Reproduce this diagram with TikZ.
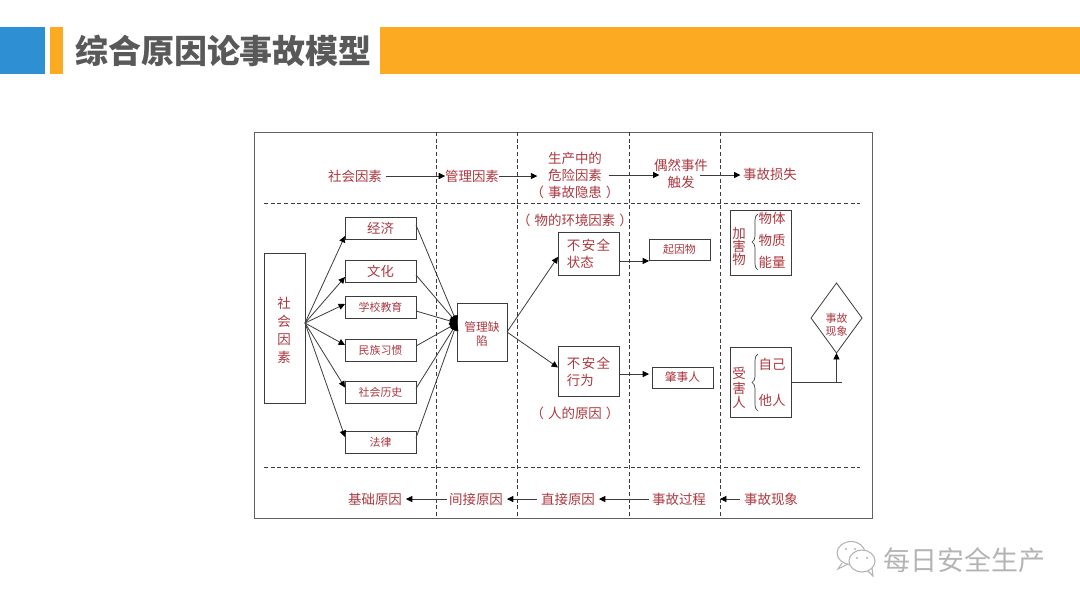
\documentclass[tikz,border=0pt]{standalone}
\usepackage{fontspec}
\setmainfont{Noto Sans CJK SC}
\usetikzlibrary{arrows.meta,decorations.pathreplacing,shapes.geometric}
\definecolor{hblue}{HTML}{2E90D2}
\definecolor{horange}{HTML}{FBAA22}
\definecolor{htitle}{HTML}{595959}
\definecolor{lab}{HTML}{AC3840}
\definecolor{ln}{HTML}{3C3C3C}
\definecolor{wm}{HTML}{B4B4B4}
\tikzset{
  x=0.75pt,y=-0.75pt,
  lbl/.style={inner sep=0pt,outer sep=0pt,text=lab,align=center,font=\fontsize{10.1}{12.75}\selectfont},
  sml/.style={inner sep=0pt,outer sep=0pt,text=lab,align=center,font=\fontsize{8.2}{10.4}\selectfont},
  boxn/.style={draw=ln,line width=0.6pt,inner sep=0pt,outer sep=0pt,text=lab,align=center,font=\fontsize{10.1}{12.75}\selectfont},
  cause/.style={boxn,minimum width=53.25pt},
  arr/.style={draw=ln,line width=0.6pt,-{Triangle[length=4.8pt,width=4.6pt,color=black,fill=black]}},
  plain/.style={draw=ln,line width=0.6pt},
  conv/.style={draw=ln,line width=0.6pt,-{Triangle[length=5.5pt,width=6pt,color=black,fill=black]}},
  dsh/.style={draw=ln,line width=0.6pt,dash pattern=on 3pt off 2pt},
  brc/.style={draw=ln,line width=0.5pt,decorate,decoration={brace,amplitude=4.5pt}}
}
\begin{document}
\begin{tikzpicture}
\useasboundingbox (0,0) rectangle (1080,608);
\fill[white] (0,0) rectangle (1080,608);
% header
\fill[hblue] (0,27) rectangle (45,74);
\fill[horange] (50,27) rectangle (63,74);
\fill[horange] (380,27) rectangle (1080,74);
\node[text=htitle,inner sep=0pt,font=\fontsize{24.7}{28}\selectfont\bfseries] (title) at (223.5,51) {综合原因论事故模型};
% frame
\draw[draw=black!62,line width=0.65pt] (254,132) rectangle (872,518);
\foreach \x in {436,517,629,720} \draw[dsh] (\x,132) -- (\x,518);
\foreach \y in {203,467} \draw[dsh] (264,\y) -- (860,\y);
% top row
\node[lbl] (t1) at (355,176) {社会因素};
\node[lbl] (t2) at (472,176) {管理因素};
\node[lbl] (t3) at (575,175) {生产中的\\危险因素\\（\kern3pt 事故隐患\kern3pt ）};
\node[lbl] (t4) at (681,174) {偶然事件\\触发};
\node[lbl] (t5) at (770,174) {事故损失};
\draw[arr,shorten <=3pt] (t1.east) -- (t1.east -| t2.west);
\draw[arr,shorten >=-5pt] (t2.east) -- (t2.east -| t3.west);
\draw[arr,shorten <=-8pt,shorten >=-4pt] (t3.east) -- (t3.east -| t4.west);
\draw[arr,shorten <=-6pt,shorten >=2pt] ([yshift=-0.75pt]t4.east) -- ([yshift=-0.75pt]t4.east -| t5.west);
% social factors
\node[boxn,minimum width=30.75pt,minimum height=112.5pt] (soc) at (284.5,328) {};
\node[lbl] (soct) at (284,330) {社\\[0.75pt]会\\[0.75pt]因\\[0.75pt]素};
\coordinate (socout) at (305,323);
\node[cause,minimum height=16.5pt,font=\fontsize{10}{12}\selectfont] (c1) at (380.5,228) {经济};
\node[cause,minimum height=16.5pt,font=\fontsize{10}{12}\selectfont] (c2) at (380.5,271) {文化};
\node[cause,minimum height=16.5pt,font=\fontsize{8.2}{10}\selectfont] (c3) at (380.5,307) {学校教育};
\node[cause,minimum height=16.5pt,font=\fontsize{8.2}{10}\selectfont] (c4) at (380.5,350) {民族习惯};
\node[cause,minimum height=16pt,font=\fontsize{8.2}{10}\selectfont] (c5) at (380.5,392.5) {社会历史};
\node[cause,minimum height=16pt,font=\fontsize{8.2}{10}\selectfont] (c6) at (380.5,442.5) {法律};
\node[boxn,minimum width=37.5pt,minimum height=43.5pt,font=\fontsize{8.8}{10.1}\selectfont] (mg) at (482,332) {\mbox{}\\管理缺\\陷};
\coordinate (mgin) at (457,323);
\foreach \i/\a/\b in {1/8/-3,2/6/4,3/-3/4,4/-5/-4,5/-5/-4,6/-5.5/-4.5} {
  \draw[arr] (socout) -- ([yshift={-(\a)*0.75pt}]c\i.west);
  \draw[conv] ([yshift={-(\b)*0.75pt}]c\i.east) -- (mgin);
}
% states
\node[boxn,minimum width=45.75pt,minimum height=32.25pt] (s1) at (588.5,253.5) {不\kern1pt 安\kern1pt 全\\\makebox[32.3pt][l]{状态}};
\node[boxn,minimum width=45.75pt,minimum height=37.5pt] (s2) at (588.5,371.5) {不\kern1pt 安\kern1pt 全\\\makebox[32.3pt][l]{行为}};
\coordinate (mgout) at (507,332);
\draw[arr] (mgout) -- ([yshift=-2.5pt]s1.west);
\draw[arr] (mgout) -- ([yshift=3pt]s2.west);
\node[lbl] (envl) at (575,220) {（\kern3pt 物的环境因素\kern3pt ）};
\node[lbl] (huml) at (575,413) {（\kern3pt 人的原因\kern3pt ）};
\node[boxn,minimum width=45.75pt,minimum height=15.75pt,font=\fontsize{8.2}{10}\selectfont] (o1) at (679.5,249.5) {起因物};
\node[boxn,minimum width=45.75pt,minimum height=15.75pt,font=\fontsize{8.8}{10}\selectfont] (o2) at (682.5,377.5) {肇事人};
\draw[arr] ([yshift=-5.6pt]s1.east) -- ([yshift=-5.6pt]s1.east -| o1.west);
\draw[arr,shorten >=2.25pt] ([yshift=-1.9pt]s2.east) -- ([yshift=-1.9pt]s2.east -| o2.west);
% harm boxes
\node[boxn,minimum width=45.75pt,minimum height=48.75pt] (hw) at (760.5,242.5) {};
\node[lbl,font=\fontsize{10.1}{9.75}\selectfont] (hw1) at (739,246) {加\\害\\物};
\node[lbl] (hw2) at (772,218) {物体};
\node[lbl] (hw3) at (772,240) {物质};
\node[lbl] (hw4) at (772,262) {能量};
\draw[brc] (758,270) -- (758,214);
\node[boxn,minimum width=45.75pt,minimum height=52.5pt] (hp) at (760.5,382) {};
\node[lbl,font=\fontsize{10.1}{10.9}\selectfont] (hp1) at (739,388) {受\\害\\人};
\node[lbl] (hp2) at (772,364) {自己};
\node[lbl] (hp3) at (772,400) {他人};
\draw[brc] (758,411) -- (758,354);
% diamond
\draw[draw=ln,line width=0.6pt,fill=white] (836.5,283) -- (862,318) -- (836.5,353) -- (811,318) -- cycle;
\node[sml,font=\fontsize{8.2}{10}\selectfont] (acc) at (836.5,325) {事故\\现象};
\coordinate (dbot) at (836.5,353);
\coordinate (jn) at (836.5,382);
\coordinate (jr) at (841.5,382);
\draw[plain] (hp.east |- jn) -- (jr);
\draw[arr] (jn) -- (dbot);
% bottom row
\node[lbl] (b1) at (375,499) {基础原因};
\node[lbl] (b2) at (476,499) {间接原因};
\node[lbl] (b3) at (568,499) {直接原因};
\node[lbl] (b4) at (679,499) {事故过程};
\node[lbl] (b5) at (771,499) {事故现象};
\draw[arr,shorten <=1.5pt,shorten >=3pt] (b2.west) -- (b1.east);
\draw[arr,shorten <=3pt,shorten >=3pt] (b3.west) -- (b2.east);
\draw[arr,shorten <=2pt,shorten >=3pt] (b4.west) -- (b3.east);
\coordinate (b45) at (720,499);
\draw[arr,shorten <=3pt] (b5.west) -- (b45);
% watermark
\begin{scope}[draw=wm,line width=0.8pt]
  \draw (851,553) ellipse [x radius=14,y radius=11.5];
  \draw (842,563) -- (838,569) -- (848,564);
  \draw[fill=white] (862,561) ellipse [x radius=13,y radius=11];
  \draw (868,571) -- (873,576) -- (872,568);
  \fill[wm] (846,549) circle (1.2) (855,549) circle (1.2) (857,558) circle (1.2) (867,558) circle (1.2);
\end{scope}
\node[text=wm,inner sep=0pt,font=\fontsize{20.2}{24}\selectfont] (wmt) at (964.5,560) {每日安全生产};
\end{tikzpicture}
\end{document}
